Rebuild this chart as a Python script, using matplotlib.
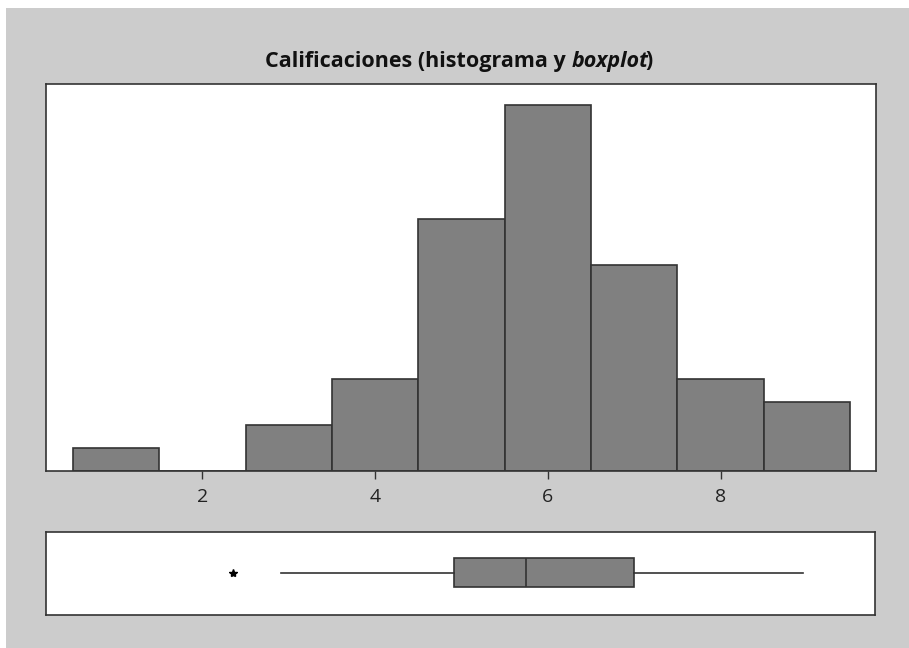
import matplotlib
matplotlib.use('Agg')
import matplotlib.pyplot as plt
from matplotlib.patches import Rectangle

# histogram: grade classes (centres) and counts
grades = [1, 2, 3, 4, 5, 6, 7, 8, 9]
counts = [1, 0, 2, 4, 11, 16, 9, 4, 3]
xticks = [2, 4, 6, 8]

# boxplot summary (as drawn in the figure)
box_q1 = 4.92
box_med = 5.75
box_q3 = 7.01
box_whislo = 2.91
box_whishi = 8.97
box_fliers = [2.36]

W, H = 909, 648
fig = plt.figure(figsize=(W / 100, H / 100), dpi=100, facecolor='white')
fig.patches.append(Rectangle((6 / W, 0), 1, (H - 8) / H, transform=fig.transFigure,
                             facecolor='#cccccc', edgecolor='none', zorder=-10))

def frac(l, t, r, b):
    return [l / W, 1 - b / H, (r - l) / W, (b - t) / H]

edge = '#333333'
fill = '#808080'
xlim = (0.19, 9.80)

ax = fig.add_axes(frac(46, 84, 876, 471))
ax.bar(grades, counts, width=1.0, color=fill, edgecolor=edge, linewidth=1.2)
ax.set_xlim(*xlim)
ax.set_ylim(0, 16.9)
ax.set_yticks([])
ax.set_xticks(xticks)
ax.set_xticklabels([str(t) for t in xticks], fontsize=14, family='Open Sans', color='#222222')
ax.tick_params(axis='x', direction='out', length=6, width=1, color=edge, pad=6)
for s in ax.spines.values():
    s.set_color(edge)
    s.set_linewidth(1.2)

bx = fig.add_axes(frac(46, 532, 875, 615))
stats = [dict(med=box_med, q1=box_q1, q3=box_q3, whislo=box_whislo,
              whishi=box_whishi, fliers=box_fliers)]
bx.bxp(stats, positions=[0.51], widths=0.35, vert=False, patch_artist=True,
       showcaps=False,
       boxprops=dict(facecolor=fill, edgecolor=edge, linewidth=1.2),
       medianprops=dict(color=edge, linewidth=1.2),
       whiskerprops=dict(color=edge, linewidth=1.2),
       flierprops=dict(marker='*', markersize=6, markerfacecolor='black',
                       markeredgecolor='black'))
bx.set_xlim(*xlim)
bx.set_ylim(0, 1)
bx.set_xticks([])
bx.set_yticks([])
for s in bx.spines.values():
    s.set_color(edge)
    s.set_linewidth(1.2)

# title with italic "boxplot"
parts = [('Calificaciones (histograma y ', 'normal', 0), ('boxplot', 'italic', -3), (')', 'normal', 0)]
fig.canvas.draw()
r = fig.canvas.get_renderer()
texts = []
for s, st, _ in parts:
    t = fig.text(0, 1 - 61 / H, s, fontsize=15.5, fontweight='bold', style=st,
                 family='Open Sans', va='center', ha='left', color='#111111')
    texts.append(t)
widths = [t.get_window_extent(r).width + p[2] for t, p in zip(texts, parts)]
x0 = 459 - sum(widths) / 2
for t, w in zip(texts, widths):
    t.set_x(x0 / W)
    x0 += w

fig.savefig('out.png', dpi=100, facecolor=fig.get_facecolor())
